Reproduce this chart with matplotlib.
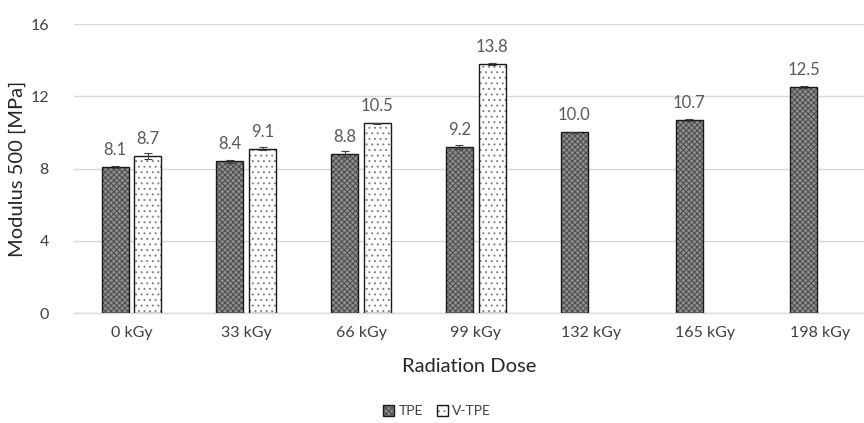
import numpy as np
import matplotlib
matplotlib.use("Agg")
import matplotlib.pyplot as plt

plt.rcParams["font.family"] = ["Lato", "DejaVu Sans"]
plt.rcParams["hatch.linewidth"] = 0.7

# ── data ─────────────────────────────────────────────────────────────────────
doses     = ["0 kGy", "33 kGy", "66 kGy", "99 kGy", "132 kGy", "165 kGy", "198 kGy"]
tpe       = [8.1, 8.4, 8.8, 9.2, 10.0, 10.7, 12.5]
tpe_err   = [0.06, 0.07, 0.15, 0.12, 0.03, 0.05, 0.05]
vtpe      = [8.7, 9.1, 10.5, 13.8]
vtpe_err  = [0.15, 0.07, 0.03, 0.05]
yticks    = [0, 4, 8, 12, 16]

W, H = 864, 423
fig = plt.figure(figsize=(W / 100, H / 100), dpi=100)
# axes: left 74 px, top 24 px, bottom 313 px, 114.8 px per category
ax = fig.add_axes([74 / W, (H - 313) / H, 7 * 114.8 / W, 289 / H])

x = np.arange(len(doses))
bw, off = 0.235, 0.142
xt = x - off
xv = np.arange(len(vtpe)) + off

# hatch colour follows edgecolor, so fill+hatch first, then a black outline on top
t_fill = ax.bar(xt, tpe, width=bw, color="#8f8f8f", edgecolor="#4a4a4a", linewidth=0,
                hatch="xxxxxx", zorder=3)
t_edge = ax.bar(xt, tpe, width=bw, facecolor="none", edgecolor="#1a1a1a", linewidth=1.0, zorder=3)
v_fill = ax.bar(xv, vtpe, width=bw, color="white", edgecolor="#808080", linewidth=0,
                hatch="...", zorder=3)
v_edge = ax.bar(xv, vtpe, width=bw, facecolor="none", edgecolor="#1a1a1a", linewidth=1.0, zorder=3)

ax.errorbar(xt, tpe, yerr=tpe_err, fmt="none", ecolor="#404040", elinewidth=0.8,
            capsize=3, capthick=0.8, zorder=4)
ax.errorbar(xv, vtpe, yerr=vtpe_err, fmt="none", ecolor="#404040", elinewidth=0.8,
            capsize=3, capthick=0.8, zorder=4)

for xi, v in zip(xt, tpe):
    ax.text(xi, v + 0.5, f"{v:.1f}", ha="center", va="bottom", fontsize=12, color="#595959")
for xi, v in zip(xv, vtpe):
    ax.text(xi, v + 0.5, f"{v:.1f}", ha="center", va="bottom", fontsize=12, color="#595959")

ax.set_xlim(-0.5, len(doses) - 0.5)
ax.set_ylim(0, 16)
ax.set_yticks(yticks)
ax.set_xticks(x)
ax.set_xticklabels(doses)
ax.tick_params(axis="both", length=0, labelsize=11.5, labelcolor="#404040")
ax.tick_params(axis="y", pad=18)
ax.tick_params(axis="x", pad=9)
ax.grid(True, axis="y", color="#d9d9d9", linewidth=1.0, zorder=0)
for s in ["top", "right", "left"]:
    ax.spines[s].set_visible(False)
ax.spines["bottom"].set_color("#d9d9d9")
ax.spines["bottom"].set_linewidth(1.0)
ax.set_axisbelow(True)

ax.set_ylabel("Modulus 500 [MPa]", fontsize=14.5, color="#262626", labelpad=3)
fig.text(469 / W, 1 - 366 / H, "Radiation Dose", ha="center", va="center",
         fontsize=14.5, color="#262626")

leg = fig.legend([(t_fill[0], t_edge[0]), (v_fill[0], v_edge[0])], ["TPE", "V-TPE"],
                 loc="center", ncol=2, bbox_to_anchor=(437 / W, 1 - 411 / H),
                 frameon=False, fontsize=10, handlelength=0.8, handleheight=0.8,
                 handletextpad=0.3, columnspacing=1.0)
for t in leg.get_texts():
    t.set_color("#404040")

fig.savefig("out.png", dpi=100)
